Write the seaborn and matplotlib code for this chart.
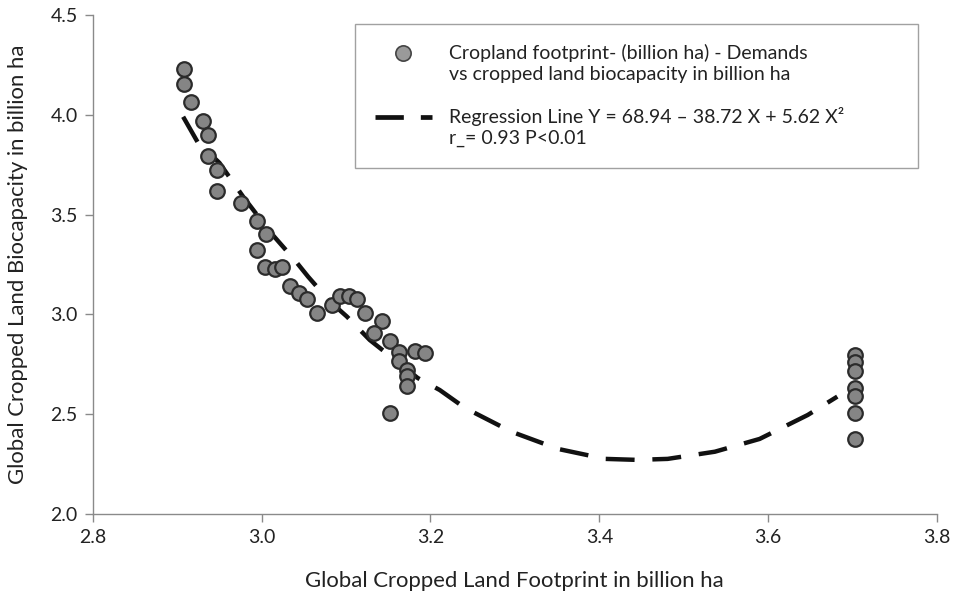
import matplotlib
matplotlib.use("Agg")
import matplotlib.pyplot as plt
import seaborn as sns
import numpy as np
import pandas as pd
from matplotlib.lines import Line2D

# Scatter data
footprint = [2.908, 2.908, 2.916, 2.930, 2.937, 2.936, 2.947, 2.947, 2.975, 2.995,
             3.005, 2.995, 3.004, 3.016, 3.024, 3.034, 3.044, 3.054, 3.065, 3.083,
             3.093, 3.103, 3.113, 3.123, 3.142, 3.133, 3.152, 3.163, 3.182, 3.193,
             3.163, 3.172, 3.172, 3.172, 3.152,
             3.703, 3.703, 3.703, 3.703, 3.703, 3.703, 3.703]
biocapacity = [4.229, 4.153, 4.066, 3.969, 3.899, 3.795, 3.723, 3.620, 3.560, 3.468,
               3.403, 3.323, 3.236, 3.227, 3.239, 3.142, 3.109, 3.076, 3.006, 3.047,
               3.092, 3.092, 3.076, 3.009, 2.968, 2.905, 2.868, 2.813, 2.818, 2.808,
               2.767, 2.721, 2.691, 2.641, 2.505,
               2.797, 2.762, 2.716, 2.631, 2.591, 2.506, 2.376]

# Regression curve
reg_x = [2.907, 2.924, 2.950, 2.978, 3.010, 3.039, 3.055, 3.081, 3.101, 3.128,
         3.185, 3.211, 3.241, 3.296, 3.351, 3.407, 3.445, 3.481, 3.537, 3.590,
         3.647, 3.682]
reg_y = [3.990, 3.864, 3.759, 3.590, 3.413, 3.273, 3.189, 3.064, 2.989, 2.872,
         2.681, 2.621, 2.531, 2.412, 2.326, 2.276, 2.271, 2.276, 2.312, 2.376,
         2.496, 2.588]

x_ticks = [2.8, 3.0, 3.2, 3.4, 3.6, 3.8]
y_ticks = [2.0, 2.5, 3.0, 3.5, 4.0, 4.5]

scatter_lines = ["Cropland footprint- (billion ha) - Demands",
                 "vs cropped land biocapacity in billion ha"]
line_lines = ["Regression Line Y = 68.94 \u2013 38.72 X + 5.62 X\u00b2",
              "r_= 0.93 P<0.01"]

sns.set_theme(style="ticks")
plt.rcParams['font.family'] = ['Lato', 'DejaVu Sans']

fig = plt.figure(figsize=(9.57, 5.98), dpi=100)
ax = fig.add_axes([0.097, 0.1405, 0.882, 0.8345])

df = pd.DataFrame({"x": footprint, "y": biocapacity})
reg = pd.DataFrame({"x": reg_x, "y": reg_y})

sns.lineplot(data=reg, x="x", y="y", ax=ax, color="#111111", linewidth=3.2,
             dashes=False, sort=False, zorder=2)
ax.lines[-1].set_dashes((6.5, 4.0))
sns.scatterplot(data=df, x="x", y="y", ax=ax, s=110, color="#858585",
                edgecolor="#2b2b2b", linewidth=1.6, zorder=3)

ax.set_xlim(2.8, 3.8)
ax.set_ylim(2.0, 4.5)
ax.set_xticks(x_ticks)
ax.set_yticks(y_ticks)
ax.set_xticklabels([f"{v:.1f}" for v in x_ticks])
ax.set_yticklabels([f"{v:.1f}" for v in y_ticks])
ax.tick_params(axis="both", direction="out", length=6, width=1, color="#8a8a8a",
               labelsize=14, labelcolor="#222222", pad=5)
for s in ["top", "right"]:
    ax.spines[s].set_visible(False)
for s in ["left", "bottom"]:
    ax.spines[s].set_color("#8a8a8a")
    ax.spines[s].set_linewidth(1.0)

ax.set_xlabel("Global Cropped Land Footprint in billion ha", fontsize=15.9,
              color="#222222", labelpad=18)
ax.set_ylabel("Global Cropped Land Biocapacity in billion ha", fontsize=15.9,
              color="#222222", labelpad=16)

blank = Line2D([], [], linestyle="none")
handles = [
    Line2D([], [], linestyle="none", marker="o", markersize=11,
           markerfacecolor="#9a9a9a", markeredgecolor="#444444", markeredgewidth=1.2),
    blank, blank,
    Line2D([], [], color="#111111", linewidth=3.4, dashes=(6.0, 3.6)),
    blank,
]
labels = [scatter_lines[0], scatter_lines[1], " ", line_lines[0], line_lines[1]]
leg = ax.legend(handles, labels, loc="upper left",
                bbox_to_anchor=(0.3104, 0.0, 0.667, 0.982), mode="expand",
                frameon=True, fancybox=False, fontsize=14, handlelength=2.9,
                handletextpad=0.88, borderpad=1.05, labelspacing=0.19,
                borderaxespad=0.0)
leg.get_frame().set_edgecolor("#8a8a8a")
leg.get_frame().set_linewidth(1.0)
for t in leg.get_texts():
    t.set_color("#222222")

fig.savefig("out.png", dpi=100)
